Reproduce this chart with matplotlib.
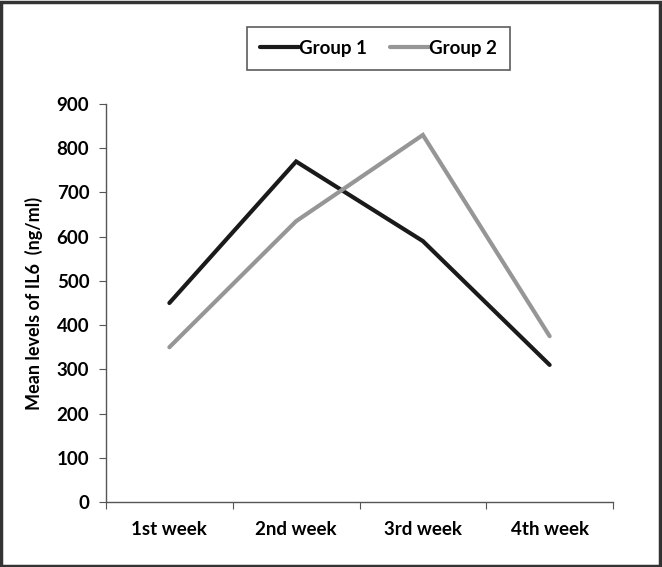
import matplotlib
matplotlib.use("Agg")
import matplotlib.pyplot as plt
from matplotlib.patches import Rectangle
import numpy as np

categories = ["1st week", "2nd week", "3rd week", "4th week"]
group1 = [450, 770, 590, 310]
group2 = [350, 635, 830, 375]
yticks = [0, 100, 200, 300, 400, 500, 600, 700, 800, 900]

plt.rcParams['font.family'] = ['Lato', 'DejaVu Sans']
plt.rcParams['font.weight'] = 'bold'

fig = plt.figure(figsize=(6.62, 5.67), dpi=100)
W, H = 662, 567
ax = fig.add_axes([106 / W, 1 - 502 / H, (613 - 106) / W, (502 - 104) / H])

x = np.arange(len(categories))
ax.plot(x, group1, color="#1a1a1a", lw=3.0, label="Group 1", solid_capstyle="round", solid_joinstyle="miter")
ax.plot(x, group2, color="#969696", lw=3.0, label="Group 2", solid_capstyle="round", solid_joinstyle="miter")

ax.set_xlim(-0.5, len(categories) - 0.5)
ax.set_ylim(0, 900)
ax.set_yticks(yticks)
ax.set_yticklabels([str(v) for v in yticks], fontsize=13.5, fontweight='bold')
ax.set_xticks(np.arange(-0.5, len(categories), 1.0))
ax.set_xticklabels([])
ax.set_xticks(x, minor=True)
ax.set_xticklabels(categories, minor=True, fontsize=13.5, fontweight='bold')
ax.tick_params(axis='x', which='minor', length=0, pad=14)
ax.tick_params(axis='x', which='major', length=5, direction='out', color='#555555')
ax.tick_params(axis='y', length=5, direction='out', color='#555555', pad=7)
for s in ['top', 'right']:
    ax.spines[s].set_visible(False)
for s in ['left', 'bottom']:
    ax.spines[s].set_color('#555555')
    ax.spines[s].set_linewidth(1.0)

ax.set_ylabel("Mean levels of IL6  (ng/ml)", fontsize=13, fontweight='bold', labelpad=10)

leg = fig.legend(loc='center', bbox_to_anchor=(378.5 / W, 1 - 48.5 / H), ncol=2, frameon=True,
                 fancybox=False, edgecolor='#333333', fontsize=13.5, handlelength=2.1,
                 handletextpad=0.0, columnspacing=1.2, borderpad=0.7, borderaxespad=0)
leg.get_frame().set_linewidth(1.2)
for t in leg.get_texts():
    t.set_fontweight('bold')

fig.patches.append(Rectangle((1 / W, 1 / H), 1 - 3 / W, 1 - 3 / H, transform=fig.transFigure,
                             fill=False, edgecolor='#333333', lw=2.5))

fig.savefig("out.png", dpi=100)
